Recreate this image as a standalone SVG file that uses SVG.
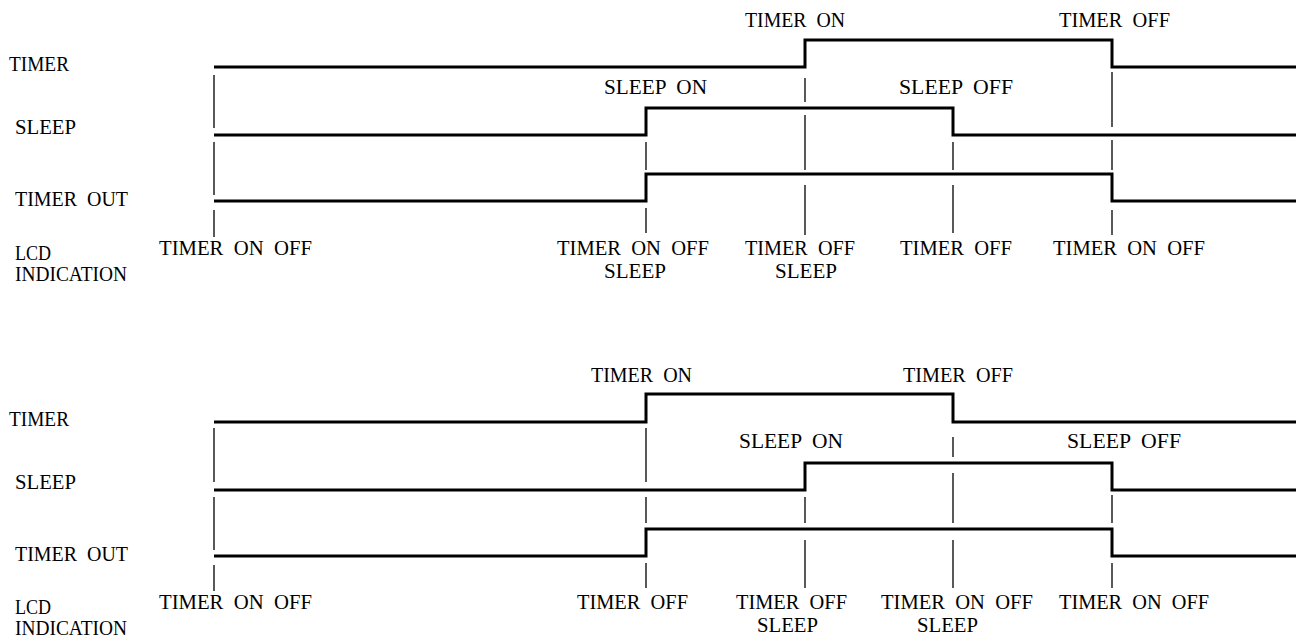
<svg xmlns="http://www.w3.org/2000/svg" width="1296" height="639" viewBox="0 0 1296 639" xml:space="preserve">
<style>
text{font-family:"Liberation Serif","Times New Roman",serif;font-size:20px;fill:#000;white-space:pre}
.sig{fill:none;stroke:#000;stroke-width:3}
.tick{fill:none;stroke:#000;stroke-width:1.3}
</style>
<rect width="1296" height="639" fill="#fff"/>
<g id="chart1">
  <g id="labels1">
    <text x="9" y="71" textLength="60" lengthAdjust="spacingAndGlyphs">TIMER</text>
    <text x="15" y="134" textLength="61" lengthAdjust="spacingAndGlyphs">SLEEP</text>
    <text x="15" y="206" textLength="113" lengthAdjust="spacingAndGlyphs">TIMER  OUT</text>
    <text x="15" y="260" textLength="36" lengthAdjust="spacingAndGlyphs">LCD</text>
    <text x="15" y="281" textLength="112" lengthAdjust="spacingAndGlyphs">INDICATION</text>
  </g>
  <g id="signals1">
    <path class="sig" d="M214,67 H805 V40 H1112 V67 H1296"/>
    <path class="sig" d="M214,135 H646 V108 H953 V135 H1296"/>
    <path class="sig" d="M214,201 H646 V174 H1112 V201 H1296"/>
  </g>
  <g id="ticks1">
    <path class="tick" d="M214,75 V128 M214,142 V195 M214,210 V237"/>
    <path class="tick" d="M646,142 V170 M646,208 V233"/>
    <path class="tick" d="M805,78 V102 M805,115 V170 M805,185 V235"/>
    <path class="tick" d="M953,142 V170 M953,185 V233"/>
    <path class="tick" d="M1112,72 V127 M1112,140 V170 M1112,210 V235"/>
  </g>
  <g id="events1">
    <text x="745" y="27" textLength="100" lengthAdjust="spacingAndGlyphs">TIMER  ON</text>
    <text x="1059" y="27" textLength="111" lengthAdjust="spacingAndGlyphs">TIMER  OFF</text>
    <text x="604" y="94" textLength="103" lengthAdjust="spacingAndGlyphs">SLEEP  ON</text>
    <text x="899" y="94" textLength="114" lengthAdjust="spacingAndGlyphs">SLEEP  OFF</text>
  </g>
  <g id="lcd1">
    <text x="159" y="255" textLength="153" lengthAdjust="spacingAndGlyphs">TIMER  ON  OFF</text>
    <text x="557" y="255" textLength="152" lengthAdjust="spacingAndGlyphs">TIMER  ON  OFF</text>
    <text x="604" y="278" textLength="62" lengthAdjust="spacingAndGlyphs">SLEEP</text>
    <text x="745" y="255" textLength="110" lengthAdjust="spacingAndGlyphs">TIMER  OFF</text>
    <text x="775" y="278" textLength="62" lengthAdjust="spacingAndGlyphs">SLEEP</text>
    <text x="900" y="255" textLength="112" lengthAdjust="spacingAndGlyphs">TIMER  OFF</text>
    <text x="1053" y="255" textLength="152" lengthAdjust="spacingAndGlyphs">TIMER  ON  OFF</text>
  </g>
</g>
<g id="chart2">
  <g id="labels2">
    <text x="9" y="426" textLength="60" lengthAdjust="spacingAndGlyphs">TIMER</text>
    <text x="15" y="489" textLength="61" lengthAdjust="spacingAndGlyphs">SLEEP</text>
    <text x="15" y="561" textLength="113" lengthAdjust="spacingAndGlyphs">TIMER  OUT</text>
    <text x="15" y="614" textLength="36" lengthAdjust="spacingAndGlyphs">LCD</text>
    <text x="15" y="635" textLength="112" lengthAdjust="spacingAndGlyphs">INDICATION</text>
  </g>
  <g id="signals2">
    <path class="sig" d="M214,422 H646 V394 H953 V422 H1296"/>
    <path class="sig" d="M214,490 H805 V463 H1112 V490 H1296"/>
    <path class="sig" d="M214,556 H646 V529 H1112 V556 H1296"/>
  </g>
  <g id="ticks2">
    <path class="tick" d="M214,428 V482 M214,497 V550 M214,565 V591"/>
    <path class="tick" d="M646,428 V482 M646,497 V523 M646,563 V588"/>
    <path class="tick" d="M805,497 V523 M805,540 V588"/>
    <path class="tick" d="M953,437 V457 M953,473 V523 M953,540 V588"/>
    <path class="tick" d="M1112,495 V523 M1112,563 V588"/>
  </g>
  <g id="events2">
    <text x="591" y="382" textLength="101" lengthAdjust="spacingAndGlyphs">TIMER  ON</text>
    <text x="903" y="382" textLength="110" lengthAdjust="spacingAndGlyphs">TIMER  OFF</text>
    <text x="739" y="448" textLength="104" lengthAdjust="spacingAndGlyphs">SLEEP  ON</text>
    <text x="1067" y="448" textLength="114" lengthAdjust="spacingAndGlyphs">SLEEP  OFF</text>
  </g>
  <g id="lcd2">
    <text x="159" y="609" textLength="153" lengthAdjust="spacingAndGlyphs">TIMER  ON  OFF</text>
    <text x="577" y="609" textLength="111" lengthAdjust="spacingAndGlyphs">TIMER  OFF</text>
    <text x="736" y="609" textLength="111" lengthAdjust="spacingAndGlyphs">TIMER  OFF</text>
    <text x="757" y="632" textLength="61" lengthAdjust="spacingAndGlyphs">SLEEP</text>
    <text x="881" y="609" textLength="152" lengthAdjust="spacingAndGlyphs">TIMER  ON  OFF</text>
    <text x="917" y="632" textLength="61" lengthAdjust="spacingAndGlyphs">SLEEP</text>
    <text x="1059" y="609" textLength="150" lengthAdjust="spacingAndGlyphs">TIMER  ON  OFF</text>
  </g>
</g>
</svg>
